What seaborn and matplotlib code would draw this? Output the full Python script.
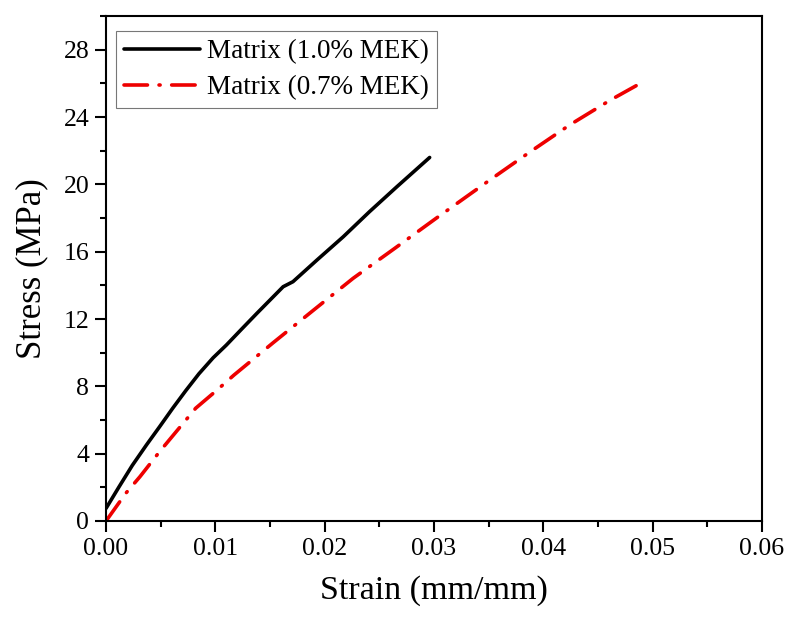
import numpy as np
import pandas as pd
import matplotlib
matplotlib.use("Agg")
import matplotlib.pyplot as plt
import seaborn as sns
from matplotlib.ticker import MultipleLocator, FormatStrFormatter

# -----------------------------
# Data
# -----------------------------
strain_mek10 = [0, 0.0012, 0.0024, 0.0037, 0.0049, 0.0061, 0.0073, 0.0085,
                0.0098, 0.011, 0.0124, 0.0138, 0.0162, 0.0168, 0.0171,
                0.0193, 0.0217, 0.0241, 0.0266, 0.0296]
stress_mek10 = [0.75, 2.04, 3.3, 4.52, 5.6, 6.7, 7.75, 8.75,
                9.7, 10.45, 11.4, 12.34, 13.92, 14.12, 14.22,
                15.51, 16.89, 18.38, 19.86, 21.6]

strain_mek07 = [0, 0.0018, 0.0031, 0.0049, 0.0066, 0.0082, 0.0101, 0.0117,
                0.0153, 0.019, 0.0226, 0.0263, 0.0302, 0.0351,
                0.0388, 0.0424, 0.0461, 0.049]
stress_mek07 = [0, 1.64, 2.63, 4.12, 5.45, 6.7, 7.75, 8.67,
                10.6, 12.54, 14.42, 16.15, 17.99, 20.26,
                21.94, 23.53, 25.0, 26.05]

labels = ["Matrix (1.0% MEK)", "Matrix (0.7% MEK)"]

df10 = pd.DataFrame({"strain": strain_mek10, "stress": stress_mek10})
df07 = pd.DataFrame({"strain": strain_mek07, "stress": stress_mek07})

# -----------------------------
# Style
# -----------------------------
sns.set_style("ticks")
plt.rcParams["font.family"] = ["Liberation Serif", "DejaVu Serif"]
plt.rcParams["text.color"] = "black"
plt.rcParams["axes.labelcolor"] = "black"

fig = plt.figure(figsize=(7.99, 6.2), dpi=100)
ax = fig.add_axes([0.1327, 0.1597, 0.821, 0.8143])

sns.lineplot(data=df10, x="strain", y="stress", ax=ax, sort=False,
             estimator=None, color="black", linewidth=2.6, label=labels[0])
sns.lineplot(data=df07, x="strain", y="stress", ax=ax, sort=False,
             estimator=None, color="#ee0000", linewidth=2.6, label=labels[1])

red = ax.get_lines()[1]
red.set_linestyle((0, (6.5, 3.2, 0.3, 3.2)))
red.set_dash_capstyle("round")

# -----------------------------
# Axes
# -----------------------------
ax.set_xlim(0, 0.06)
ax.set_ylim(0, 30)
ax.xaxis.set_major_locator(MultipleLocator(0.01))
ax.xaxis.set_minor_locator(MultipleLocator(0.005))
ax.yaxis.set_major_locator(MultipleLocator(4))
ax.yaxis.set_minor_locator(MultipleLocator(2))
ax.xaxis.set_major_formatter(FormatStrFormatter("%.2f"))
ax.set_yticks([0, 4, 8, 12, 16, 20, 24, 28])

for s in ax.spines.values():
    s.set_visible(True)
    s.set_linewidth(1.5)
    s.set_color("black")

ax.tick_params(axis="both", which="major", direction="out", length=8,
               width=1.5, labelsize=18.5, colors="black", pad=4)
ax.tick_params(axis="both", which="minor", direction="out", length=4.5,
               width=1.5, colors="black")
ax.tick_params(top=False, right=False, which="both")

ax.set_xlabel("Strain (mm/mm)", fontsize=24.5, labelpad=11, color="black")
ax.set_ylabel("Stress (MPa)", fontsize=25, labelpad=11, color="black")

leg = ax.legend(loc="upper left", bbox_to_anchor=(0.0152, 0.9703),
                fontsize=19.5, frameon=True, fancybox=False,
                handlelength=2.8, handletextpad=0.25, borderpad=0.3,
                labelspacing=0.4, borderaxespad=0)
leg.get_frame().set_edgecolor("#555555")
leg.get_frame().set_linewidth(0.8)
for t in leg.get_texts():
    t.set_color("black")

plt.savefig("out.png", dpi=100)
